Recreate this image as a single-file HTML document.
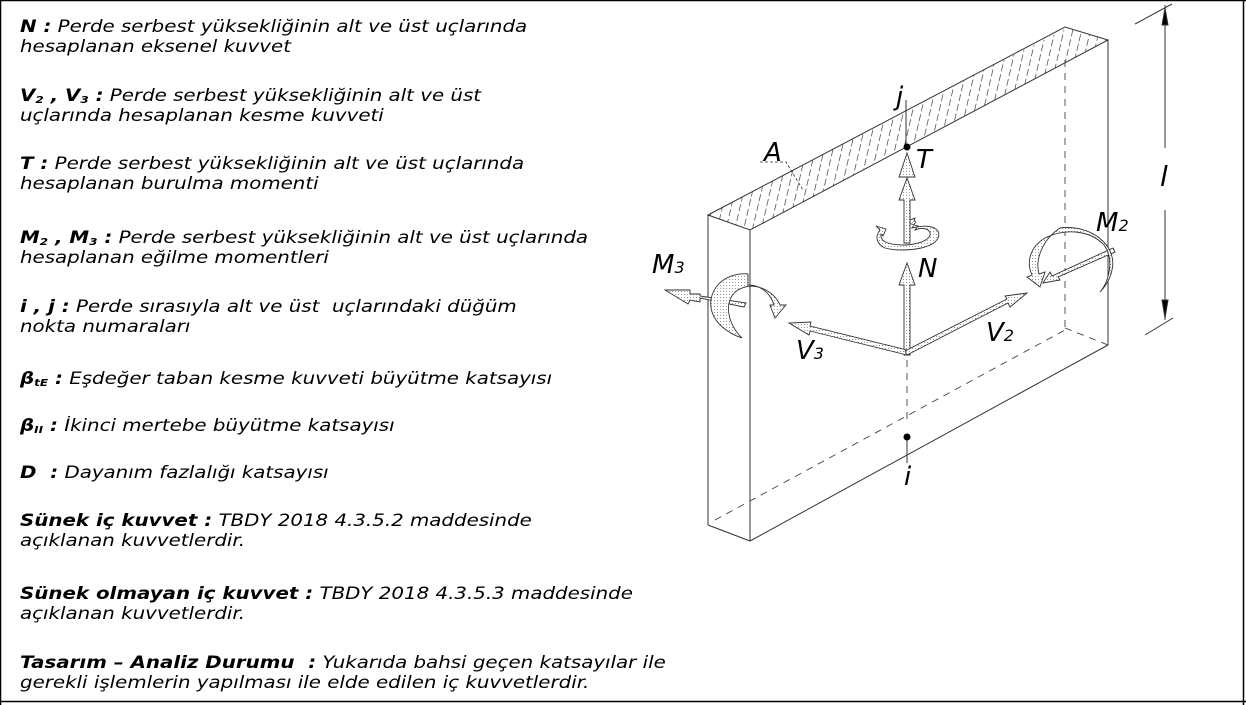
<!DOCTYPE html>
<html><head><meta charset="utf-8"><style>
html,body{margin:0;padding:0;background:#fff;}
#w{position:relative;width:1246px;height:705px;overflow:hidden;font-family:"DejaVu Sans","Liberation Sans",sans-serif;font-style:italic;color:#000;}
.t{position:absolute;left:20px;line-height:20px;white-space:nowrap;font-size:16.5px;transform:scaleX(1.2);transform-origin:0 0;}
.l{position:absolute;font-size:26px;line-height:30px;}
b{font-weight:bold;}
sub{font-size:10px;vertical-align:baseline;position:relative;top:2px;line-height:0;}
svg{position:absolute;left:0;top:0;}
</style></head><body><div id="w">
<svg width="1246" height="705" viewBox="0 0 1246 705">
<defs>
<pattern id="dots" width="3" height="3" patternUnits="userSpaceOnUse"><rect width="3" height="3" fill="#fff"/><rect width="1" height="1" fill="#999"/></pattern>
<clipPath id="topc"><polygon points="708,215 1065,27 1108,40 750,230"/></clipPath>
</defs>
<line x1="0.5" y1="0" x2="0.5" y2="705" stroke="#000" stroke-width="1.5"/>
<line x1="0" y1="0.5" x2="1246" y2="0.5" stroke="#000" stroke-width="1.5"/>
<line x1="1243.5" y1="0" x2="1243.5" y2="705" stroke="#000" stroke-width="1.5"/>
<line x1="0" y1="701.5" x2="1246" y2="701.5" stroke="#000" stroke-width="1.5"/>
<g clip-path="url(#topc)" stroke="#555" stroke-width="0.8" stroke-dasharray="7,3">
<path d="M700,260 l14,-60 M710,260 l14,-60 M720,255 l14,-60 M730,250 l14,-60 M740,245 l14,-60 M750,240 l14,-60 M760,235 l14,-60 M770,230 l14,-60 M780,225 l14,-60 M790,220 l14,-60 M800,215 l14,-60 M810,210 l14,-60 M820,205 l14,-60 M830,200 l14,-60 M840,195 l14,-60 M850,190 l14,-60 M860,185 l14,-60 M870,180 l14,-60 M880,175 l14,-60 M890,170 l14,-60 M900,165 l14,-60 M910,160 l14,-60 M920,155 l14,-60 M930,150 l14,-60 M940,145 l14,-60 M950,140 l14,-60 M960,135 l14,-60 M970,130 l14,-60 M980,125 l14,-60 M990,120 l14,-60 M1000,115 l14,-60 M1010,110 l14,-60 M1020,105 l14,-60 M1030,100 l14,-60 M1040,95 l14,-60 M1050,90 l14,-60 M1060,85 l14,-60 M1070,80 l14,-60 M1080,75 l14,-60 M1090,70 l14,-60 M1100,65 l14,-60"/>
</g>
<g fill="none" stroke="#333" stroke-width="1">
<polygon points="708,215 1065,27 1108,40 750,230"/>
<line x1="708" y1="215" x2="708" y2="525"/>
<line x1="750" y1="230" x2="750" y2="541"/>
<line x1="1108" y1="40" x2="1108" y2="345"/>
<line x1="708" y1="525" x2="750" y2="541"/>
<line x1="750" y1="541" x2="1108" y2="345"/>
</g>
<g fill="none" stroke="#444" stroke-width="0.9" stroke-dasharray="7,6">
<line x1="1065" y1="60" x2="1065" y2="328"/>
<line x1="1065" y1="328" x2="1108" y2="345"/>
<line x1="715" y1="520" x2="1065" y2="330"/>
<line x1="907" y1="360" x2="907" y2="425"/>
</g>
<g stroke="#333" stroke-width="1" fill="#000">
<line x1="1165" y1="5" x2="1165" y2="148"/>
<line x1="1165" y1="210" x2="1165" y2="320"/>
<line x1="1135" y1="24" x2="1172" y2="4"/>
<line x1="1145" y1="335" x2="1173" y2="318"/>
<polygon points="1165,8 1162,25 1168,25"/>
<polygon points="1165,318 1162,300 1168,300"/>
</g>
<path d="M760,162 L786,162 L803,190" fill="none" stroke="#333" stroke-width="0.8" stroke-dasharray="3,2"/>
<line x1="906" y1="100" x2="906" y2="147" stroke="#333"/>
<circle cx="907" cy="147" r="3.5" fill="#000"/>
<line x1="907" y1="437" x2="907" y2="463" stroke="#333"/>
<circle cx="907" cy="437" r="3.5" fill="#000"/>
<g fill="url(#dots)" stroke="#333" stroke-width="0.9">
<!-- T rotation -->
<path d="M912,228 C935,222 945,232 935,242 C925,250 900,252 885,248 C876,244 875,236 880,230 L876,226 L886,229 L883,236 L881,234 C880,240 885,245 905,245 C925,244 935,236 928,230 C923,227 918,229 915,230 L918,226 L905,222 L915,218 L914,221 C918,220 912,228 912,228 Z"/>
<!-- T arrows -->
<polygon points="904,243 904,200 899,200 907,178 915,200 910,200 910,243"/>
<polygon points="904,177 899,177 907,153 915,177 910,177"/>
<!-- N -->
<polygon points="904,355 904,285 899,285 907,263 915,285 910,285 910,355"/>
<!-- V3 -->
<polygon points="907,355 810,331 809,335 789,323 811,322 810,326 907,350"/>
<!-- V2 -->
<polygon points="907,355 1008,303 1010,307 1027,293 1005,296 1007,299 905,351"/>
<!-- M3 arrow -->
<polygon points="744,307 700,298 700,302 690,300 688,304 665,290 690,290 690,294 700,294 700,296 746,303"/>
<!-- M3 rotation -->
<path d="M748,274 C722,272 706,292 712,312 C716,325 730,334 742,338 C728,325 722,300 738,290 C755,280 775,292 780,305 L786,305 L775,318 L770,305 L774,305 C770,292 760,285 748,285 Z"/>
<!-- M2 arrow -->
<polygon points="1113,248 1052,276 1050,272 1043,283 1060,280 1058,277 1115,252"/>
<!-- M2 rotation -->
<path d="M1060,228 C1090,224 1118,245 1112,270 C1110,280 1104,288 1100,292 C1110,280 1114,258 1104,245 C1090,230 1065,228 1045,238 C1030,247 1026,262 1032,275 L1027,277 L1040,287 L1045,272 L1039,274 C1035,260 1042,240 1060,228 Z"/>
</g>
</svg>
<div class="l" style="left:896px;top:82px;">j</div>
<div class="l" style="left:764px;top:138px;">A</div>
<div class="l" style="left:916px;top:145px;">T</div>
<div class="l" style="left:1160px;top:162px;font-size:28px;">l</div>
<div class="l" style="left:918px;top:254px;">N</div>
<div class="l" style="left:1096px;top:208px;">M<span style="font-size:16px">2</span></div>
<div class="l" style="left:652px;top:250px;">M<span style="font-size:16px">3</span></div>
<div class="l" style="left:796px;top:336px;">V<span style="font-size:16px">3</span></div>
<div class="l" style="left:986px;top:318px;">V<span style="font-size:16px">2</span></div>
<div class="l" style="left:904px;top:462px;">i</div>
<div class="t" style="top:17px"><b>N :</b> Perde serbest yüksekliğinin alt ve üst uçlarında<br>hesaplanan eksenel kuvvet</div>
<div class="t" style="top:86px"><b>V<sub>2</sub> , V<sub>3</sub> :</b> Perde serbest yüksekliğinin alt ve üst<br>uçlarında hesaplanan kesme kuvveti</div>
<div class="t" style="top:154px"><b>T :</b> Perde serbest yüksekliğinin alt ve üst uçlarında<br>hesaplanan burulma momenti</div>
<div class="t" style="top:228px"><b>M<sub>2</sub> , M<sub>3</sub> :</b> Perde serbest yüksekliğinin alt ve üst uçlarında<br>hesaplanan eğilme momentleri</div>
<div class="t" style="top:297px"><b>i , j :</b> Perde sırasıyla alt ve üst &nbsp;uçlarındaki düğüm<br>nokta numaraları</div>
<div class="t" style="top:369px"><b>β<sub>tE</sub> :</b> Eşdeğer taban kesme kuvveti büyütme katsayısı</div>
<div class="t" style="top:416px"><b>β<sub>II</sub> :</b> İkinci mertebe büyütme katsayısı</div>
<div class="t" style="top:463px"><b>D &nbsp;:</b> Dayanım fazlalığı katsayısı</div>
<div class="t" style="top:511px"><b>Sünek iç kuvvet :</b> TBDY 2018 4.3.5.2 maddesinde<br>açıklanan kuvvetlerdir.</div>
<div class="t" style="top:584px"><b>Sünek olmayan iç kuvvet :</b> TBDY 2018 4.3.5.3 maddesinde<br>açıklanan kuvvetlerdir.</div>
<div class="t" style="top:653px"><b>Tasarım – Analiz Durumu &nbsp;:</b> Yukarıda bahsi geçen katsayılar ile<br>gerekli işlemlerin yapılması ile elde edilen iç kuvvetlerdir.</div>
</div></body></html>
